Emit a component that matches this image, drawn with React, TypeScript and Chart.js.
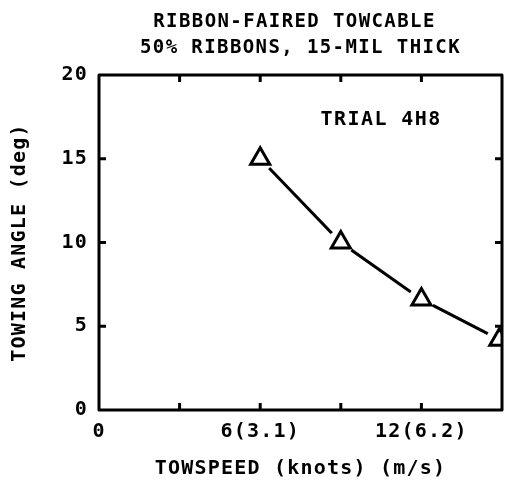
import React, { useEffect, useRef } from "react";
import { Chart, registerables } from "chart.js";

Chart.register(...registerables);

// ---- data ----
const titleLines = ["RIBBON-FAIRED TOWCABLE", "50% RIBBONS, 15-MIL THICK"];
const annotationText = "TRIAL 4H8";
const annotationX = 10.5;
const annotationY = 17.3;

const towSpeed = [6, 9, 12, 14.9];
const towingAngle = [15, 10, 6.6, 4.2];

const xMin = 0;
const xMax = 15;
const xStep = 3;
const yMin = 0;
const yMax = 20;
const yStep = 5;
const xTickLabels: Record<string, string> = { "0": "0", "6": "6(3.1)", "12": "12(6.2)" };
const yTickLabels: Record<string, string> = { "0": "0", "5": "5", "10": "10", "15": "15", "20": "20" };
const innerXTicks = [3, 6, 9, 12];
const innerYTicks = [5, 10, 15];

const xTitle = "TOWSPEED (knots) (m/s)";
const yTitle = "TOWING ANGLE (deg)";

const FONT = "'DejaVu Sans Mono', 'Liberation Mono', monospace";

const framePlugin = {
  id: "frameAndText",
  beforeDraw(chart: any) {
    const ctx = chart.ctx;
    ctx.letterSpacing = "1.2px";
  },
  afterDraw(chart: any) {
    const ctx = chart.ctx;
    const { left, right, top, bottom } = chart.chartArea;
    const xs = chart.scales.x;
    const ys = chart.scales.y;
    ctx.save();
    ctx.strokeStyle = "#000";
    ctx.lineWidth = 3;
    ctx.lineJoin = "round";
    ctx.strokeRect(left, top, right - left, bottom - top);
    const tl = 7;
    ctx.beginPath();
    innerXTicks.forEach((v) => {
      const px = xs.getPixelForValue(v);
      ctx.moveTo(px, bottom);
      ctx.lineTo(px, bottom - tl);
      ctx.moveTo(px, top);
      ctx.lineTo(px, top + tl);
    });
    innerYTicks.forEach((v) => {
      const py = ys.getPixelForValue(v);
      ctx.moveTo(left, py);
      ctx.lineTo(left + tl, py);
      ctx.moveTo(right, py);
      ctx.lineTo(right - tl, py);
    });
    ctx.stroke();

    // title
    ctx.fillStyle = "#000";
    ctx.textAlign = "center";
    ctx.textBaseline = "middle";
    ctx.letterSpacing = "1.4px";
    ctx.font = `bold 19px ${FONT}`;
    const cx = (left + right) / 2;
    ctx.fillText(titleLines[0], cx - 6, 22);
    ctx.fillText(titleLines[1], cx, 48);

    // annotation
    ctx.letterSpacing = "1.4px";
    ctx.font = `bold 20px ${FONT}`;
    ctx.fillText(annotationText, xs.getPixelForValue(annotationX), ys.getPixelForValue(annotationY));
    ctx.restore();
  },
};

export default function App() {
  const ref = useRef<HTMLCanvasElement | null>(null);

  useEffect(() => {
    if (!ref.current) return;
    document.body.style.margin = "0";
    document.body.style.overflow = "hidden";
    const pts = towSpeed.map((x, i) => ({ x, y: towingAngle[i] }));
    const chart = new Chart(ref.current, {
      type: "line",
      data: {
        datasets: [
          {
            data: pts,
            borderColor: "#000",
            borderWidth: 3,
            pointRadius: 0,
            tension: 0,
            order: 3,
            clip: 0,
          } as any,
          {
            data: pts,
            showLine: false,
            pointRadius: 13,
            pointBorderWidth: 0,
            pointBackgroundColor: "#fff",
            pointBorderColor: "#fff",
            order: 2,
            clip: 0,
          } as any,
          {
            data: pts,
            showLine: false,
            pointStyle: "triangle",
            pointRadius: 11,
            pointBorderWidth: 3,
            pointBorderColor: "#000",
            pointBackgroundColor: "#fff",
            order: 1,
            clip: 0,
          } as any,
        ],
      },
      options: {
        animation: false,
        responsive: false,
        devicePixelRatio: 1,
        events: [],
        layout: { autoPadding: false, padding: { top: 75, right: 3, left: 0, bottom: 0 } },
        plugins: {
          legend: { display: false },
          tooltip: { enabled: false },
          title: { display: false },
        },
        scales: {
          x: {
            type: "linear",
            min: xMin,
            max: xMax,
            grid: { display: false, drawTicks: false },
            border: { display: false },
            ticks: {
              stepSize: xStep,
              autoSkip: false,
              maxRotation: 0,
              padding: 10,
              color: "#000",
              font: { family: FONT, size: 20, weight: "bold" },
              callback: (v: any) => xTickLabels[String(v)] ?? "",
            },
            title: {
              display: true,
              text: xTitle,
              color: "#000",
              font: { family: FONT, size: 20, weight: "bold" },
              padding: { top: 4, bottom: 10 },
            },
            afterFit: (s: any) => {
              s.height = 81;
              s.paddingLeft = 0;
              s.paddingRight = 0;
            },
          },
          y: {
            type: "linear",
            min: yMin,
            max: yMax,
            grid: { display: false, drawTicks: false },
            border: { display: false },
            ticks: {
              stepSize: yStep,
              padding: 11,
              color: "#000",
              font: { family: FONT, size: 20, weight: "bold" },
              callback: (v: any) => yTickLabels[String(v)] ?? "",
            },
            title: {
              display: true,
              text: yTitle,
              color: "#000",
              font: { family: FONT, size: 20, weight: "bold" },
              padding: { top: 8, bottom: 0 },
            },
            afterFit: (s: any) => {
              s.width = 99;
              s.paddingTop = 0;
              s.paddingBottom = 0;
            },
          },
        },
      } as any,
      plugins: [framePlugin],
    });
    return () => chart.destroy();
  }, []);

  return (
    <div style={{ position: "absolute", left: 0, top: 0, width: 505, height: 491, background: "#fff", overflow: "hidden" }}>
      <canvas ref={ref} width={505} height={491} style={{ display: "block", width: 505, height: 491 }} />
    </div>
  );
}
